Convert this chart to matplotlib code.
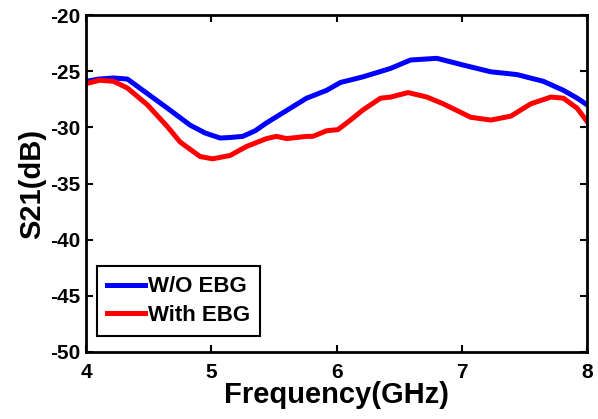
import matplotlib.pyplot as plt

plt.rcParams['font.family'] = ['Liberation Sans', 'DejaVu Sans']
plt.rcParams['font.weight'] = 'bold'
plt.rcParams['axes.unicode_minus'] = False

# W/O EBG (blue)
freq_blue = [4.0, 4.1, 4.22, 4.33, 4.49, 4.65, 4.83, 4.95, 5.07, 5.15, 5.25, 5.35, 5.44, 5.6,
             5.76, 5.92, 6.03, 6.21, 6.43, 6.59, 6.8, 7.01, 7.23, 7.44, 7.65, 7.81, 7.92, 8.0]
s21_blue = [-25.9, -25.7, -25.6, -25.7, -27.0, -28.3, -29.8, -30.5, -30.95, -30.9, -30.8, -30.3, -29.6, -28.5,
            -27.4, -26.7, -26.0, -25.5, -24.75, -24.0, -23.85, -24.45, -25.05, -25.3, -25.9, -26.7, -27.4, -28.0]

# With EBG (red)
freq_red = [4.0, 4.11, 4.22, 4.33, 4.49, 4.65, 4.75, 4.91, 5.01, 5.15, 5.28, 5.44, 5.52, 5.6, 5.76,
            5.81, 5.92, 6.01, 6.11, 6.21, 6.35, 6.43, 6.57, 6.72, 6.85, 7.07, 7.23, 7.39, 7.55,
            7.71, 7.81, 7.92, 8.0]
s21_red = [-26.1, -25.8, -25.9, -26.5, -28.0, -29.95, -31.3, -32.6, -32.8, -32.5, -31.7, -31.0, -30.8, -31.0, -30.8,
           -30.8, -30.3, -30.2, -29.35, -28.45, -27.4, -27.3, -26.9, -27.3, -27.9, -29.1, -29.35, -29.0, -27.9,
           -27.3, -27.4, -28.3, -29.5]

fig = plt.figure(figsize=(5.98, 4.19), dpi=100)
ax = fig.add_axes([0.144, 0.160, 0.838, 0.804])

ax.plot(freq_blue, s21_blue, color='#0000ff', linewidth=3.6, label='W/O EBG')
ax.plot(freq_red, s21_red, color='#ff0000', linewidth=3.6, label='With EBG')

ax.set_xlim(4, 8)
ax.set_ylim(-50, -20)
ax.set_xticks([4, 5, 6, 7, 8])
ax.set_yticks(range(-50, -19, 5))
ax.tick_params(direction='in', top=True, right=True, labelsize=15, width=1.5, length=5)
ax.tick_params(axis='x', pad=8)
ax.tick_params(axis='y', pad=4)
for s in ax.spines.values():
    s.set_linewidth(2)

ax.set_xlabel('Frequency(GHz)', fontsize=21, fontweight='bold', labelpad=-1)
ax.set_ylabel('S21(dB)', fontsize=21, fontweight='bold', labelpad=3)

leg = ax.legend(loc='lower left', bbox_to_anchor=(0.022, 0.047), fontsize=16, handlelength=1.7,
                handletextpad=0.15, borderaxespad=0, fancybox=False, edgecolor='black',
                framealpha=1, labelspacing=0.35, borderpad=0.45)
leg.get_frame().set_linewidth(1.5)

fig.savefig('out.png', dpi=100)
